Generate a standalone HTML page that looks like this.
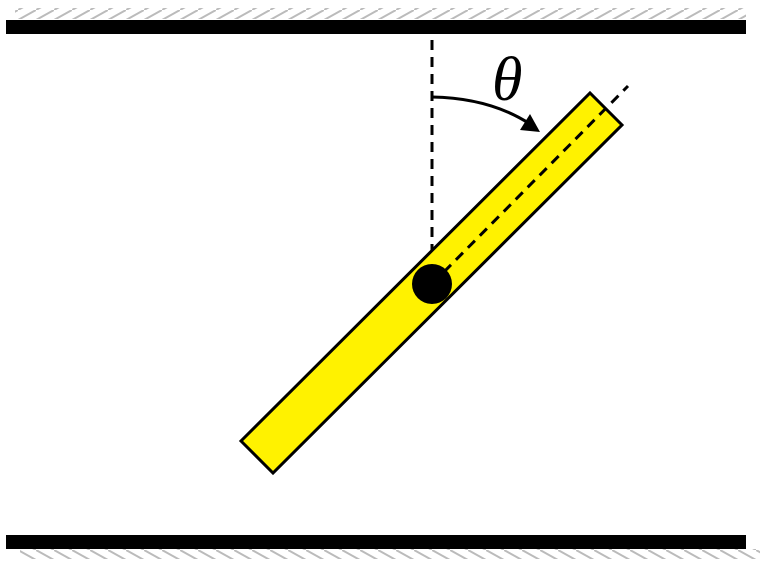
<!DOCTYPE html>
<html><head><meta charset="utf-8"><style>html,body{margin:0;padding:0;background:#fff}svg{display:block}</style></head>
<body>
<svg width="777" height="568" viewBox="0 0 777 568">
<defs>
<pattern id="hatchTop" width="18" height="10" patternUnits="userSpaceOnUse">
<line x1="0" y1="10" x2="18" y2="0" stroke="#bbb" stroke-width="2"/>
</pattern>
<pattern id="hatchBot" width="18" height="10" patternUnits="userSpaceOnUse">
<line x1="0" y1="0" x2="18" y2="10" stroke="#bbb" stroke-width="2"/>
</pattern>
</defs>
<rect x="15" y="8" width="731" height="11" fill="url(#hatchTop)"/>
<rect x="6" y="20" width="740" height="14" fill="#000"/>
<rect x="20" y="549" width="740" height="10" fill="url(#hatchBot)"/>
<rect x="6" y="535" width="740" height="14" fill="#000"/>
<line x1="432" y1="40" x2="432" y2="284" stroke="#000" stroke-width="3" stroke-dasharray="10,7"/>
<polygon points="241,441 273,473 622,125 590,93" fill="#fff200" stroke="#000" stroke-width="3"/>
<line x1="432" y1="284" x2="628" y2="86" stroke="#000" stroke-width="3" stroke-dasharray="10,7"/>
<circle cx="432" cy="284" r="20" fill="#000"/>
<path d="M432,97 Q490,98 530,124" fill="none" stroke="#000" stroke-width="3"/>
<polygon points="540,132 520,130 530,114" fill="#000"/>
<text x="492" y="100" font-family="Liberation Serif, serif" font-style="italic" font-size="62">θ</text>
</svg>
</body></html>
